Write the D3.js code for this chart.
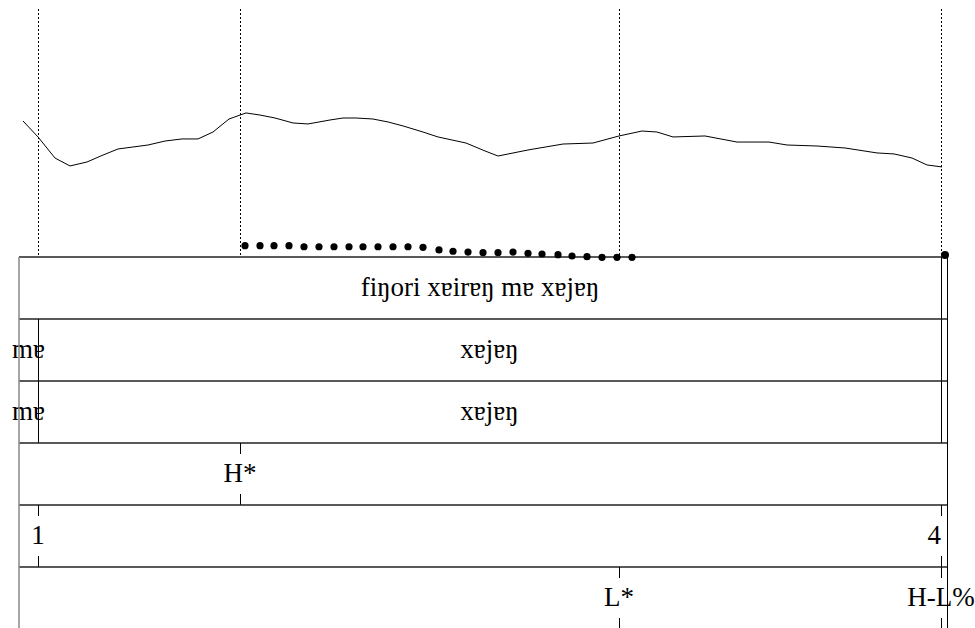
<!DOCTYPE html>
<html>
<head>
<meta charset="UTF-8">
<title>pitch + tiers</title>
<script src="https://cdn.jsdelivr.net/npm/d3@7"></script>
<style>
  body { margin: 0; background: #fff; }
  text { font-family: "Liberation Serif", "DejaVu Serif", serif; font-size: 27px; fill: #000; }
</style>
</head>
<body>
<div id="chart"></div>
<script>
// duration of the sound in seconds
var duration = 1.856;

// pitch contour (time s, Hz)
var pitchTimes = [0.008, 0.038, 0.072, 0.102, 0.136, 0.168, 0.198, 0.228, 0.258, 0.292, 0.326, 0.358,
  0.388, 0.420, 0.454, 0.482, 0.512, 0.548, 0.578, 0.622, 0.648, 0.674, 0.708, 0.738, 0.768, 0.808,
  0.838, 0.894, 0.932, 0.958, 1.018, 1.088, 1.148, 1.200, 1.246, 1.276, 1.308, 1.372, 1.436, 1.500,
  1.536, 1.596, 1.652, 1.716, 1.750, 1.786, 1.816, 1.846];
var pitchHz = [198.4, 183.9, 164.8, 157.6, 161.2, 167.5, 173.0, 174.8, 176.6, 180.2, 182.1, 182.1,
  188.4, 200.2, 205.7, 203.8, 201.1, 196.6, 195.7, 199.3, 201.1, 201.1, 200.2, 197.5, 193.9, 188.4,
  183.9, 178.4, 171.2, 166.6, 172.1, 177.5, 178.4, 184.8, 189.3, 188.4, 183.9, 184.8, 179.3, 179.3,
  176.6, 175.7, 173.9, 169.4, 168.5, 164.8, 158.5, 156.7];

// dotted low contour (time s, Hz)
var dotTimes = [0.452, 0.482, 0.510, 0.540, 0.570, 0.600, 0.630, 0.660, 0.688, 0.718, 0.748, 0.778,
  0.808, 0.840, 0.868, 0.898, 0.928, 0.958, 0.988, 1.018, 1.046, 1.078, 1.106, 1.136, 1.166, 1.196,
  1.226, 1.852];
var dotHz = [85.3, 85.3, 85.3, 85.3, 84.3, 84.3, 84.3, 84.3, 84.3, 84.3, 84.3, 84.3,
  83.8, 81.4, 80.2, 79.5, 78.9, 78.9, 79.5, 78.4, 77.7, 77.1, 75.9, 75.3, 74.7, 74.7,
  74.7, 76.8];

// dotted marker lines over the pitch
var markTimes = [0.038, 0.442, 1.200, 1.844];

// tiers
var tierKinds = ["interval", "interval", "interval", "point", "point", "point"];
var tierBounds = [
  [0, 1.844, 1.856],
  [0, 0.038, 1.844, 1.856],
  [0, 0.038, 1.844, 1.856],
  [], [], []
];
var tierLabels = [
  ["fiŋori xɐirɐŋ mɐ xɐjɐŋ", ""],
  ["mɐ", "xɐjɐŋ", ""],
  ["mɐ", "xɐjɐŋ", ""],
  ["H*"],
  ["1", "4"],
  ["L*", "H-L%"]
];
var tierPoints = [[], [], [], [0.442], [0.038, 1.844], [1.200, 1.844]];

var width = 975, height = 628;

var svg = d3.select("#chart").append("svg")
  .attr("width", width)
  .attr("height", height);

var x = d3.scaleLinear().domain([0, duration]).range([19, 947]);
var yPitch = d3.scaleLinear().domain([75, 300]).range([257, 9]);
var yTier = d3.scaleBand().domain(d3.range(tierKinds.length)).range([257, 629]);

// dotted lines
svg.append("g").selectAll("line")
  .data(markTimes)
  .enter().append("line")
  .attr("x1", function (d) { return Math.round(x(d)) + 0.5; })
  .attr("x2", function (d) { return Math.round(x(d)) + 0.5; })
  .attr("y1", 9)
  .attr("y2", 257)
  .attr("stroke", "#000")
  .attr("stroke-width", 1)
  .attr("stroke-dasharray", "2,2");

// pitch line
var line = d3.line()
  .x(function (d, i) { return x(pitchTimes[i]); })
  .y(function (d) { return yPitch(d); });

svg.append("path")
  .datum(pitchHz)
  .attr("d", line)
  .attr("fill", "none")
  .attr("stroke", "#000")
  .attr("stroke-width", 1);

// tiers
var bw = yTier.bandwidth();
var tierG = svg.append("g");

tierKinds.forEach(function (kind, t) {
  var top = yTier(t);
  var g = tierG.append("g");
  // top line
  g.append("line")
    .attr("x1", x(0)).attr("x2", x(duration))
    .attr("y1", top).attr("y2", top)
    .attr("stroke", "#222").attr("stroke-width", 1.5);

  if (kind === "interval") {
    var b = tierBounds[t];
    // inner boundaries
    g.selectAll("line.b")
      .data(b.slice(1, -1))
      .enter().append("line")
      .attr("class", "b")
      .attr("x1", function (d) { return Math.round(x(d)) + 0.5; })
      .attr("x2", function (d) { return Math.round(x(d)) + 0.5; })
      .attr("y1", top).attr("y2", top + bw)
      .attr("stroke", "#000").attr("stroke-width", 1);
    g.selectAll("text")
      .data(tierLabels[t])
      .enter().append("text")
      .attr("x", function (d, i) { return (x(b[i]) + x(b[i + 1])) / 2; })
      .attr("y", top + bw / 2 + 8)
      .attr("text-anchor", "middle")
      .text(function (d) { return d; });
  } else {
    var p = tierPoints[t];
    g.selectAll("line.tt")
      .data(p)
      .enter().append("line")
      .attr("class", "tt")
      .attr("x1", function (d) { return Math.round(x(d)) + 0.5; })
      .attr("x2", function (d) { return Math.round(x(d)) + 0.5; })
      .attr("y1", top).attr("y2", top + 11)
      .attr("stroke", "#000").attr("stroke-width", 1);
    g.selectAll("line.tb")
      .data(p)
      .enter().append("line")
      .attr("class", "tb")
      .attr("x1", function (d) { return Math.round(x(d)) + 0.5; })
      .attr("x2", function (d) { return Math.round(x(d)) + 0.5; })
      .attr("y1", top + bw - 11).attr("y2", top + bw)
      .attr("stroke", "#000").attr("stroke-width", 1);
    g.selectAll("text")
      .data(tierLabels[t])
      .enter().append("text")
      .attr("x", function (d, i) { return x(p[i]); })
      .attr("y", top + bw / 2 + 8)
      .attr("text-anchor", function (d) { return d === "4" ? "end" : "middle"; })
      .text(function (d) { return d; });
  }
});

// left and right frame
svg.append("line")
  .attr("x1", x(0)).attr("x2", x(0))
  .attr("y1", 257).attr("y2", height)
  .attr("stroke", "#888").attr("stroke-width", 1.5);
svg.append("line")
  .attr("x1", Math.round(x(duration)) + 0.5).attr("x2", Math.round(x(duration)) + 0.5)
  .attr("y1", 257).attr("y2", height)
  .attr("stroke", "#000").attr("stroke-width", 1);

// dots
svg.append("g").selectAll("circle")
  .data(dotHz)
  .enter().append("circle")
  .attr("cx", function (d, i) { return x(dotTimes[i]); })
  .attr("cy", function (d) { return yPitch(d); })
  .attr("r", function (d, i) { return i === dotHz.length - 1 ? 4 : 3.6; })
  .attr("fill", "#000");
</script>
</body>
</html>
